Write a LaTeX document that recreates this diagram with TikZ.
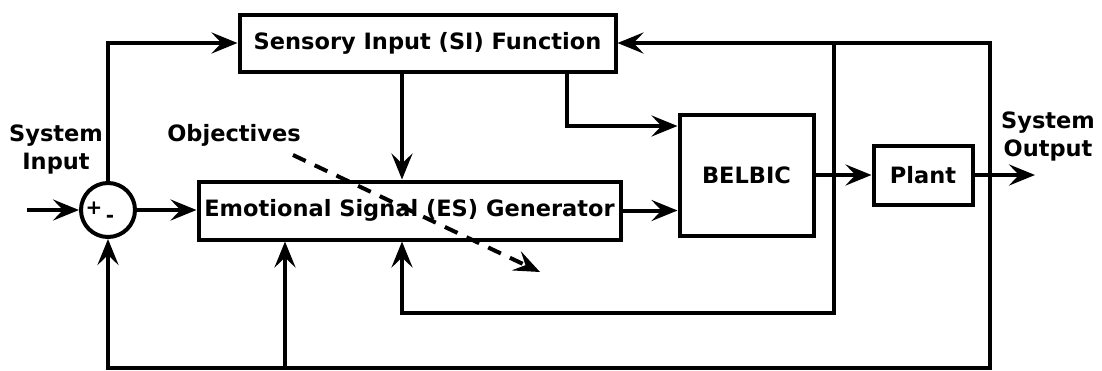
\documentclass[tikz,border=0pt]{standalone}
\usepackage{fontspec}
\setmainfont{DejaVu Sans}
\usetikzlibrary{arrows.meta}
\begin{document}
\begin{tikzpicture}[x=1pt,y=-1pt,
  txt/.style={font=\fontsize{22.5}{28}\selectfont\bfseries},
  blk/.style={draw, line width=4pt, inner sep=0pt, txt},
  lbl/.style={txt, align=center},
  conn/.style={line width=4pt, -{Stealth[length=26pt,width=21pt,inset=10pt]}},
  ln/.style={line width=4pt},
  sumc/.style={draw, circle, line width=4pt, minimum size=54pt, inner sep=0pt},
  sgn/.style={font=\fontsize{20}{20}\selectfont\bfseries, inner sep=0pt}]
\useasboundingbox (0,0) rectangle (1102,370);

% blocks
\node[blk, minimum width=376pt, minimum height=57pt] (si) at (427.5,43) {Sensory Input (SI) Function};
\node[blk, minimum width=422pt, minimum height=58pt] (es) at (409.5,210.5) {Emotional Signal (ES) Generator};
\node[blk, minimum width=134pt, minimum height=121pt] (belbic) at (746.5,175) {BELBIC};
\node[blk, minimum width=99pt, minimum height=59pt] (plant) at (923,175) {Plant};
\node[sumc] (sum) at (108,210) {};
\node[sgn] (plus) at (94,208) {+};
\node[sgn] (minus) at (110,219) {-};

% labels
\node[lbl] (sysin) at (56,149) {System\\Input};
\node[lbl] (obj) at (234,135) {Objectives};
\node[lbl] (sysout) at (1048,136) {System\\Output};

% helper coordinates
\coordinate (in) at (27,210);
\coordinate (out) at (1035,175);
\coordinate (colA) at (402,0);
\coordinate (colB) at (567,0);
\coordinate (colC) at (285,0);
\coordinate (colD) at (834,0);
\coordinate (colE) at (990,0);
\coordinate (rowT) at (0,43);
\coordinate (rowS) at (0,126);
\coordinate (rowM) at (0,313);
\coordinate (rowB) at (0,368);
\coordinate (d1) at (293,155);
\coordinate (d2) at (540,272);

% connectors
\draw[conn] (in) -- (sum.west);
\draw[conn] (sum.east) -- (sum.east -| es.west);
\draw[conn] (sum.north) |- (si.west);
\draw[conn] (si.south -| colA) -- (es.north -| colA);
\draw[conn] (si.south -| colB) |- (belbic.west |- rowS);
\draw[conn] (es.east) -- (es.east -| belbic.west);
\draw[conn] (belbic.east) -- (belbic.east -| plant.west);
\draw[conn] (plant.east) -- (out);
\draw[conn] (colE |- plant.east) -- (colE |- rowT) -- (si.east);
\draw[conn] (colE |- plant.east) -- (colE |- rowB) -- (sum.south |- rowB) -- (sum.south);
\draw[conn] (colC |- rowB) -- (es.south -| colC);
\draw[ln] (colD |- rowT) -- (colD |- belbic.east);
\draw[conn] (colD |- belbic.east) |- (colA |- rowM) -- (es.south -| colA);
\draw[conn, dash pattern=on 14pt off 10pt] (d1) -- (d2);
\end{tikzpicture}
\end{document}
